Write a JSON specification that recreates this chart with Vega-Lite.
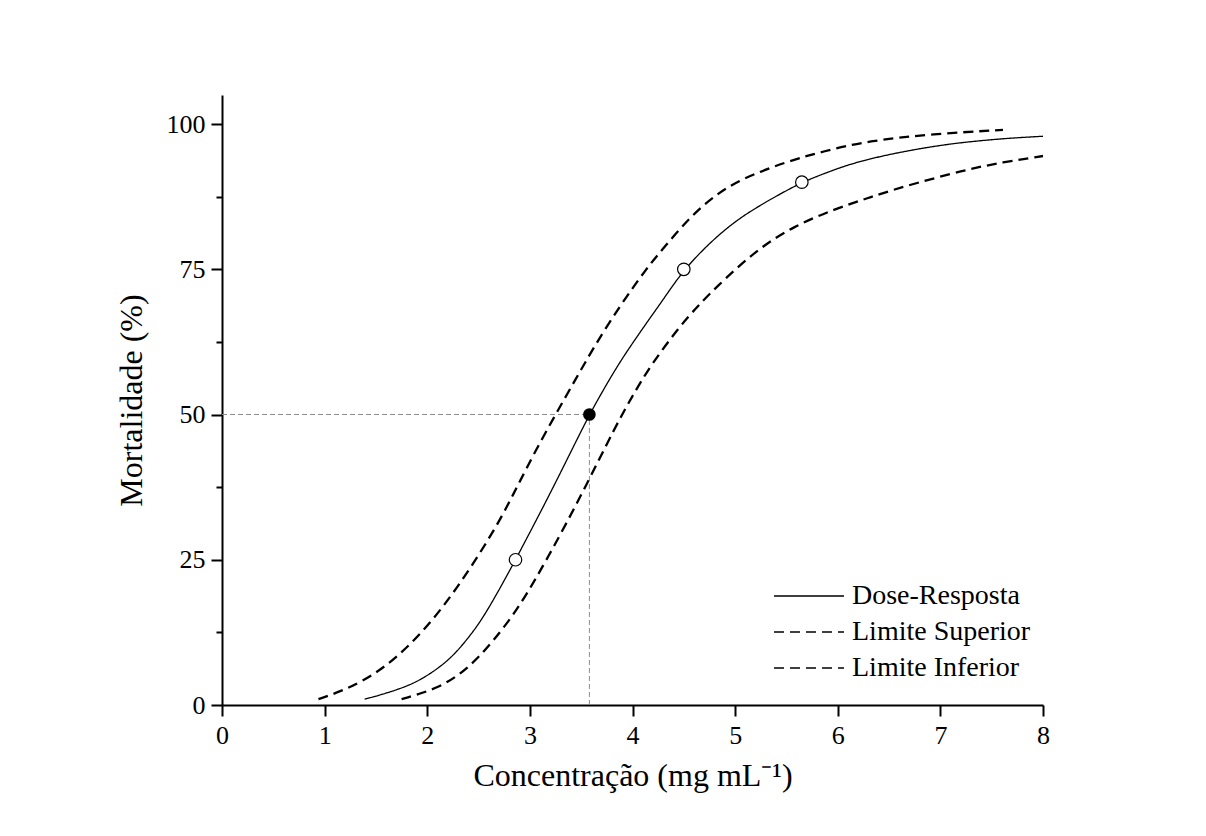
{
  "$schema": "https://vega.github.io/schema/vega-lite/v6.json",
  "width": 821,
  "height": 610,
  "autosize": {"type": "none"},
  "padding": {"left": 222, "top": 95, "right": 163, "bottom": 131},
  "background": "white",
  "config": {
    "view": {"stroke": null},
    "font": "Liberation Serif",
    "axis": {
      "grid": false,
      "domainColor": "black",
      "domainWidth": 2,
      "tickColor": "black",
      "tickWidth": 2,
      "labelColor": "black",
      "labelFont": "Liberation Serif",
      "labelFontSize": 26,
      "labelFlush": false,
      "titleFont": "Liberation Serif",
      "titleFontSize": 32,
      "titleFontWeight": "normal",
      "titleColor": "black"
    }
  },
  "datasets": {
    "curvas": [
      {"conc": 1.39, "mort": 1.0, "serie": "Dose-Resposta"},
      {"conc": 1.6, "mort": 2.0, "serie": "Dose-Resposta"},
      {"conc": 1.83, "mort": 3.4, "serie": "Dose-Resposta"},
      {"conc": 2.0, "mort": 5.0, "serie": "Dose-Resposta"},
      {"conc": 2.22, "mort": 7.8, "serie": "Dose-Resposta"},
      {"conc": 2.4, "mort": 11.5, "serie": "Dose-Resposta"},
      {"conc": 2.54, "mort": 14.9, "serie": "Dose-Resposta"},
      {"conc": 2.7, "mort": 19.8, "serie": "Dose-Resposta"},
      {"conc": 2.86, "mort": 25.0, "serie": "Dose-Resposta"},
      {"conc": 3.0, "mort": 29.7, "serie": "Dose-Resposta"},
      {"conc": 3.2, "mort": 36.5, "serie": "Dose-Resposta"},
      {"conc": 3.4, "mort": 43.6, "serie": "Dose-Resposta"},
      {"conc": 3.58, "mort": 50.0, "serie": "Dose-Resposta"},
      {"conc": 3.75, "mort": 55.3, "serie": "Dose-Resposta"},
      {"conc": 3.91, "mort": 60.0, "serie": "Dose-Resposta"},
      {"conc": 4.17, "mort": 66.6, "serie": "Dose-Resposta"},
      {"conc": 4.3, "mort": 69.8, "serie": "Dose-Resposta"},
      {"conc": 4.5, "mort": 75.0, "serie": "Dose-Resposta"},
      {"conc": 4.79, "mort": 80.2, "serie": "Dose-Resposta"},
      {"conc": 5.0, "mort": 83.2, "serie": "Dose-Resposta"},
      {"conc": 5.15, "mort": 85.0, "serie": "Dose-Resposta"},
      {"conc": 5.37, "mort": 87.3, "serie": "Dose-Resposta"},
      {"conc": 5.65, "mort": 90.0, "serie": "Dose-Resposta"},
      {"conc": 5.93, "mort": 91.9, "serie": "Dose-Resposta"},
      {"conc": 6.12, "mort": 93.1, "serie": "Dose-Resposta"},
      {"conc": 6.4, "mort": 94.4, "serie": "Dose-Resposta"},
      {"conc": 6.77, "mort": 95.7, "serie": "Dose-Resposta"},
      {"conc": 7.1, "mort": 96.6, "serie": "Dose-Resposta"},
      {"conc": 7.42, "mort": 97.2, "serie": "Dose-Resposta"},
      {"conc": 7.7, "mort": 97.6, "serie": "Dose-Resposta"},
      {"conc": 8.0, "mort": 97.9, "serie": "Dose-Resposta"},

      {"conc": 0.94, "mort": 1.0, "serie": "Limite Superior"},
      {"conc": 1.2, "mort": 2.6, "serie": "Limite Superior"},
      {"conc": 1.52, "mort": 5.5, "serie": "Limite Superior"},
      {"conc": 1.86, "mort": 10.7, "serie": "Limite Superior"},
      {"conc": 2.15, "mort": 16.7, "serie": "Limite Superior"},
      {"conc": 2.42, "mort": 23.5, "serie": "Limite Superior"},
      {"conc": 2.68, "mort": 30.9, "serie": "Limite Superior"},
      {"conc": 2.81, "mort": 35.3, "serie": "Limite Superior"},
      {"conc": 2.9, "mort": 38.4, "serie": "Limite Superior"},
      {"conc": 3.05, "mort": 43.6, "serie": "Limite Superior"},
      {"conc": 3.25, "mort": 50.0, "serie": "Limite Superior"},
      {"conc": 3.45, "mort": 56.2, "serie": "Limite Superior"},
      {"conc": 3.62, "mort": 61.5, "serie": "Limite Superior"},
      {"conc": 3.88, "mort": 68.8, "serie": "Limite Superior"},
      {"conc": 4.14, "mort": 75.2, "serie": "Limite Superior"},
      {"conc": 4.27, "mort": 78.0, "serie": "Limite Superior"},
      {"conc": 4.56, "mort": 84.0, "serie": "Limite Superior"},
      {"conc": 4.8, "mort": 87.7, "serie": "Limite Superior"},
      {"conc": 5.05, "mort": 90.5, "serie": "Limite Superior"},
      {"conc": 5.51, "mort": 93.6, "serie": "Limite Superior"},
      {"conc": 5.86, "mort": 95.3, "serie": "Limite Superior"},
      {"conc": 6.29, "mort": 97.1, "serie": "Limite Superior"},
      {"conc": 6.93, "mort": 98.3, "serie": "Limite Superior"},
      {"conc": 7.61, "mort": 99.0, "serie": "Limite Superior"},

      {"conc": 1.75, "mort": 1.0, "serie": "Limite Inferior"},
      {"conc": 2.12, "mort": 2.9, "serie": "Limite Inferior"},
      {"conc": 2.4, "mort": 6.3, "serie": "Limite Inferior"},
      {"conc": 2.64, "mort": 10.9, "serie": "Limite Inferior"},
      {"conc": 2.9, "mort": 16.9, "serie": "Limite Inferior"},
      {"conc": 3.18, "mort": 25.5, "serie": "Limite Inferior"},
      {"conc": 3.49, "mort": 35.7, "serie": "Limite Inferior"},
      {"conc": 3.85, "mort": 48.5, "serie": "Limite Inferior"},
      {"conc": 4.0, "mort": 53.2, "serie": "Limite Inferior"},
      {"conc": 4.17, "mort": 58.3, "serie": "Limite Inferior"},
      {"conc": 4.46, "mort": 65.2, "serie": "Limite Inferior"},
      {"conc": 4.64, "mort": 68.7, "serie": "Limite Inferior"},
      {"conc": 4.79, "mort": 71.5, "serie": "Limite Inferior"},
      {"conc": 5.21, "mort": 78.4, "serie": "Limite Inferior"},
      {"conc": 5.57, "mort": 82.4, "serie": "Limite Inferior"},
      {"conc": 5.96, "mort": 85.3, "serie": "Limite Inferior"},
      {"conc": 6.3, "mort": 87.3, "serie": "Limite Inferior"},
      {"conc": 6.61, "mort": 89.1, "serie": "Limite Inferior"},
      {"conc": 7.26, "mort": 92.2, "serie": "Limite Inferior"},
      {"conc": 7.6, "mort": 93.4, "serie": "Limite Inferior"},
      {"conc": 8.0, "mort": 94.5, "serie": "Limite Inferior"}
    ],
    "pontos": [
      {"conc": 2.86, "mort": 25, "nivel": "CL25"},
      {"conc": 3.58, "mort": 50, "nivel": "CL50"},
      {"conc": 4.5, "mort": 75, "nivel": "CL75"},
      {"conc": 5.65, "mort": 90, "nivel": "CL90"}
    ],
    "guias": [
      {"conc": 0, "conc2": 3.58, "mort": 50, "mort2": 50},
      {"conc": 3.58, "conc2": 3.58, "mort": 0, "mort2": 50}
    ]
  },
  "encoding": {
    "x": {
      "field": "conc",
      "type": "quantitative",
      "scale": {"domain": [0, 8], "nice": false, "zero": false},
      "axis": {
        "title": "Concentração (mg mL⁻¹)",
        "values": [0, 0.5, 1, 1.5, 2, 2.5, 3, 3.5, 4, 4.5, 5, 5.5, 6, 6.5, 7, 7.5, 8],
        "format": "d",
        "labelExpr": "datum.value % 1 === 0 ? datum.label : ''",
        "tickSize": {"condition": {"test": "datum.value % 1 !== 0", "value": 6}, "value": 11},
        "labelPadding": 6,
        "titlePadding": 12
      }
    },
    "y": {
      "field": "mort",
      "type": "quantitative",
      "scale": {"domain": [0, 105], "nice": false, "zero": false},
      "axis": {
        "title": "Mortalidade (%)",
        "values": [0, 12.5, 25, 37.5, 50, 62.5, 75, 87.5, 100],
        "format": "d",
        "labelExpr": "datum.value % 25 === 0 ? datum.label : ''",
        "tickSize": {"condition": {"test": "datum.value % 25 !== 0", "value": 6}, "value": 11},
        "labelPadding": 6,
        "titlePadding": 18
      }
    }
  },
  "layer": [
    {
      "data": {"name": "guias"},
      "mark": {"type": "rule", "color": "#8c8c8c", "strokeWidth": 1, "strokeDash": [5, 3]},
      "encoding": {
        "x2": {"field": "conc2"},
        "y2": {"field": "mort2"}
      }
    },
    {
      "data": {"name": "curvas"},
      "mark": {"type": "line", "color": "black", "interpolate": "basis"},
      "encoding": {
        "strokeDash": {
          "field": "serie",
          "type": "nominal",
          "scale": {
            "domain": ["Dose-Resposta", "Limite Superior", "Limite Inferior"],
            "range": [[1, 0], [10, 6], [10, 6]]
          },
          "legend": {
            "title": null,
            "orient": "none",
            "legendX": 551,
            "legendY": 483,
            "symbolType": "stroke",
            "symbolSize": 4900,
            "symbolStrokeWidth": 1.5,
            "symbolStrokeColor": "black",
            "clipHeight": 36,
            "rowPadding": 0,
            "padding": 0,
            "labelFont": "Liberation Serif",
            "labelFontSize": 28,
            "labelColor": "black",
            "labelOffset": 7,
            "labelLimit": 400
          }
        },
        "strokeWidth": {
          "condition": {"test": "datum.serie === 'Dose-Resposta'", "value": 1.3},
          "value": 2.3
        }
      }
    },
    {
      "data": {"name": "pontos"},
      "transform": [{"filter": "datum.nivel !== 'CL50'"}],
      "mark": {"type": "point", "shape": "circle", "filled": true, "fill": "white", "stroke": "black", "strokeWidth": 1.2, "size": 156, "opacity": 1}
    },
    {
      "data": {"name": "pontos"},
      "transform": [{"filter": "datum.nivel === 'CL50'"}],
      "mark": {"type": "point", "shape": "circle", "filled": true, "color": "black", "size": 160, "opacity": 1}
    }
  ]
}
